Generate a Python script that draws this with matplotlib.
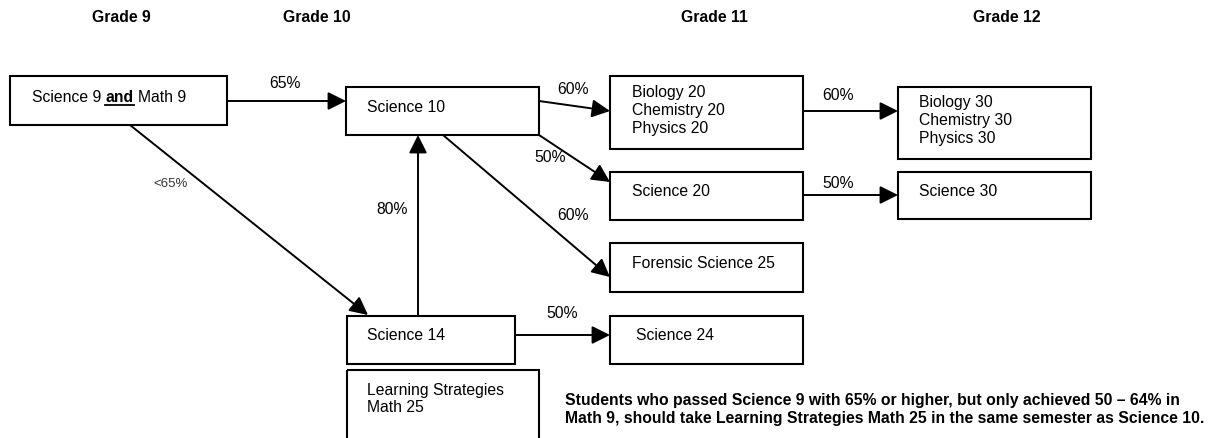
import matplotlib
matplotlib.use("Agg")
import matplotlib.pyplot as plt
from matplotlib.patches import Rectangle, FancyArrowPatch, ArrowStyle

plt.rcParams['font.family'] = ['Liberation Sans', 'DejaVu Sans']

# ---- data ----
grades = ["Grade 9", "Grade 10", "Grade 11", "Grade 12"]
grade_x = [121, 317, 714, 1007]

box_names = ["sci9", "sci10", "bio20", "sci20", "for25", "sci14", "sci24", "ls25", "bio30", "sci30"]
box_labels = {
    "sci10": ["Science 10"],
    "bio20": ["Biology 20", "Chemistry 20", "Physics 20"],
    "sci20": ["Science 20"],
    "for25": ["Forensic Science 25"],
    "sci14": ["Science 14"],
    "sci24": ["Science 24"],
    "ls25": ["Learning Strategies", "Math 25"],
    "bio30": ["Biology 30", "Chemistry 30", "Physics 30"],
    "sci30": ["Science 30"],
}
arrow_labels = ["65%", "60%", "50%", "60%", "<65%", "80%", "50%", "60%", "50%"]
note_lines = ["Students who passed Science 9 with 65% or higher, but only achieved 50 \u2013 64% in",
              "Math 9, should take Learning Strategies Math 25 in the same semester as Science 10."]

# ---- layout (pixel coordinates) ----
box_rect = {
    "sci9": (10, 76, 227, 125),
    "sci10": (346, 87, 539, 135),
    "bio20": (610, 76, 803, 149),
    "sci20": (610, 172, 803, 220),
    "for25": (610, 243, 803, 292),
    "sci14": (347, 316, 515, 364),
    "sci24": (610, 316, 803, 364),
    "ls25": (347, 370, 539, 460),
    "bio30": (898, 87, 1091, 159),
    "sci30": (898, 172, 1091, 219),
}
text_x = {"sci10": 367, "bio20": 632, "sci20": 632, "for25": 632, "sci14": 367,
          "sci24": 636, "ls25": 367, "bio30": 919, "sci30": 919}
text_y0 = {"sci10": 107, "bio20": 92, "sci20": 192, "for25": 264, "sci14": 336,
           "sci24": 336, "ls25": 390, "bio30": 102, "sci30": 192}
line_step = 18
arrows = [
    ((227, 101), (346, 101), (285, 83)),
    ((539, 101), (610, 111), (573, 89)),
    ((539, 135), (610, 182), (550, 157)),
    ((443, 135), (610, 277), (573, 216)),
    ((130, 125), (368, 315), (171, 184)),
    ((418, 316), (418, 135), (392, 210)),
    ((515, 335), (610, 335), (562, 313)),
    ((803, 111), (898, 111), (838, 95)),
    ((803, 195), (898, 195), (838, 184)),
]

FS = 11.3
W, H = 1211, 438
fig = plt.figure(figsize=(W / 100, H / 100), dpi=100)
ax = fig.add_axes([0, 0, 1, 1])
ax.set_xlim(0, W)
ax.set_ylim(H, 0)
ax.axis("off")

for g, x in zip(grades, grade_x):
    ax.text(x, 18, g, ha="center", va="center", fontsize=11.3, fontweight="bold")

for name in box_names:
    x0, y0, x1, y1 = box_rect[name]
    ax.add_patch(Rectangle((x0, y0), x1 - x0, y1 - y0, fill=False,
                           edgecolor="black", linewidth=1.5, clip_on=False))
    if name in box_labels:
        for i, line in enumerate(box_labels[name]):
            ax.text(text_x[name], text_y0[name] + i * line_step, line,
                    ha="left", va="center", fontsize=FS)

# Science 9 and Math 9 with bold underlined "and"
t1 = ax.text(32, 98, "Science 9", ha="left", va="center", fontsize=FS)
fig.canvas.draw()
r = fig.canvas.get_renderer()
inv = ax.transData.inverted()
bb = t1.get_window_extent(r)
x_end = inv.transform((bb.x1, 0))[0]
space = 4
t2 = ax.text(x_end + space, 98, "and", ha="left", va="center", fontsize=FS, fontweight="bold")
bb2 = t2.get_window_extent(r)
x2a = inv.transform((bb2.x0, 0))[0]
x2b = inv.transform((bb2.x1, 0))[0]
ax.plot([x2a, x2b], [105, 105], color="black", linewidth=1.3)
ax.text(x2b + space, 98, "Math 9", ha="left", va="center", fontsize=FS)

style = ArrowStyle("-|>", head_length=11, head_width=5.5)
for (p0, p1, lp), lab in zip(arrows, arrow_labels):
    ax.add_patch(FancyArrowPatch(p0, p1, arrowstyle=style, mutation_scale=1,
                                 color="black", linewidth=1.4, shrinkA=0, shrinkB=0))
    if lab.startswith("<"):
        ax.text(lp[0], lp[1], lab, ha="center", va="center", fontsize=9.5, color="#333333")
    else:
        ax.text(lp[0], lp[1], lab, ha="center", va="center", fontsize=FS)

for i, line in enumerate(note_lines):
    ax.text(565, 400 + i * 19, line, ha="left", va="center", fontsize=11.3,
            fontweight="bold")

fig.savefig("out.png", dpi=100)
